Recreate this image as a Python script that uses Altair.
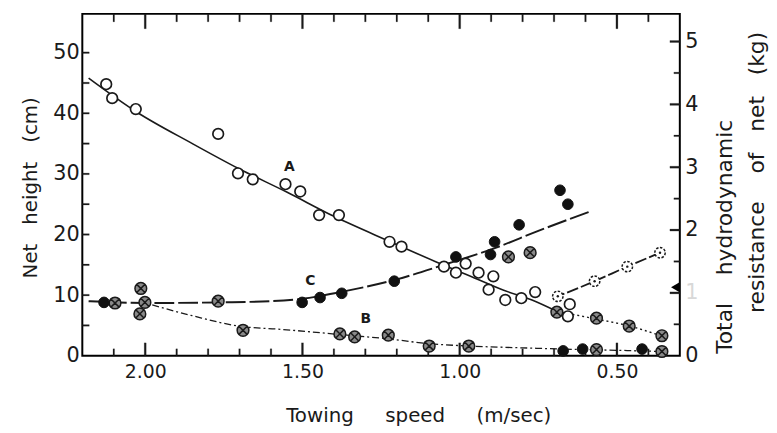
import altair as alt
import pandas as pd

# ---------------- data ----------------
# open circles (curve A, net height)
a_speed = [2.124, 2.105, 2.03, 1.768, 1.705, 1.658, 1.554, 1.507, 1.447, 1.384, 1.223, 1.185,
           1.05, 1.012, 0.981, 0.94, 0.893, 0.908, 0.855, 0.804, 0.76, 0.65, 0.656]
a_height = [44.8, 42.5, 40.7, 36.6, 30.1, 29.1, 28.3, 27.1, 23.2, 23.2, 18.8, 18.0,
            14.7, 13.7, 15.2, 13.7, 13.1, 10.9, 9.2, 9.5, 10.5, 8.5, 6.5]
# hatched circles
b_speed = [2.096, 2.014, 2.001, 2.017, 1.768, 1.689, 1.381, 1.334, 1.227, 1.097, 0.971,
           0.845, 0.776, 0.691, 0.565, 0.461, 0.357, 0.565, 0.357]
b_height = [8.7, 11.1, 8.8, 6.9, 9.0, 4.2, 3.6, 3.1, 3.4, 1.6, 1.6,
            16.3, 17.0, 7.2, 6.2, 4.9, 3.3, 1.0, 0.7]
# filled circles
c_speed = [2.131, 1.501, 1.444, 1.375, 1.208, 1.012, 0.902, 0.889, 0.811, 0.681, 0.656,
           0.671, 0.609, 0.42]
c_height = [8.8, 8.8, 9.6, 10.3, 12.3, 16.3, 16.7, 18.8, 21.6, 27.3, 25.0,
            0.8, 1.1, 1.1]
# dotted circles
d_speed = [0.688, 0.571, 0.467, 0.363]
d_height = [9.8, 12.3, 14.7, 17.0]
# marker on the right (resistance) axis, in kg
tri_speed = [0.315]
tri_resist = [1.09]

# drawn curves
curve_a_speed = [2.18, 2.03, 1.85, 1.70, 1.55, 1.40, 1.22, 1.08, 0.96, 0.86, 0.77, 0.69]
curve_a_height = [45.8, 40.3, 35.0, 30.8, 27.0, 23.0, 18.8, 15.6, 13.0, 10.8, 9.2, 7.3]
curve_a2_speed = [0.69, 0.57, 0.46, 0.36]
curve_a2_height = [7.3, 6.1, 4.9, 3.3]
curve_b_speed = [2.0, 1.85, 1.69, 1.58, 1.38, 1.23, 1.10, 0.97, 0.80, 0.67, 0.50, 0.36]
curve_b_height = [8.7, 6.6, 4.8, 4.4, 3.5, 2.8, 2.0, 1.6, 1.3, 1.1, 0.9, 0.7]
curve_c_speed = [2.18, 2.0, 1.77, 1.6, 1.5, 1.38, 1.2, 1.05, 0.886, 0.75, 0.59]
curve_c_height = [9.0, 8.7, 8.8, 9.0, 9.4, 10.5, 12.6, 15.0, 17.8, 20.6, 23.7]
curve_d_speed = [0.688, 0.571, 0.467, 0.363]
curve_d_height = [9.8, 12.3, 14.7, 17.0]

# curve labels
lab_text = ["A", "C", "B"]
lab_speed = [1.542, 1.475, 1.299]
lab_height = [31.2, 12.4, 6.0]

# ticks and tick labels
x_labels = [2.0, 1.5, 1.0, 0.5]
x_major = [2.0, 1.5, 1.0, 0.5]
x_minor = [2.1, 1.9, 1.8, 1.7, 1.6, 1.4, 1.3, 1.2, 1.1, 0.9, 0.8, 0.7, 0.6, 0.4]
y_labels = [0, 10, 20, 30, 40, 50]
y_ticks = [5, 10, 15, 20, 25, 30, 35, 40, 45, 50]
r_labels = [0, 1, 2, 3, 4, 5]
r_major = [1, 2, 3, 4, 5]
r_minor = [0.5, 1.5, 2.5, 3.5, 4.5]

W, H = 603, 345
FONT = "DejaVu Sans"
INK = "#1a1a1a"
SP = "\u00a0"
X_DOM = [0.3, 2.2]
Y_DOM = [0, 56.4]
R_DOM = [0, 5.44]
PX_X = (X_DOM[1] - X_DOM[0]) / W   # speed units per pixel
PX_Y = (Y_DOM[1] - Y_DOM[0]) / H   # cm per pixel
PX_R = (R_DOM[1] - R_DOM[0]) / H   # kg per pixel


def df(xs, ys):
    return pd.DataFrame({"speed": xs, "height": ys})


X = alt.X("speed:Q",
          scale=alt.Scale(domain=X_DOM, reverse=True, nice=False, zero=False),
          axis=alt.Axis(values=x_labels, format=".2f", ticks=False, domain=False, grid=False,
                        labelFontSize=19, labelPadding=7, labelColor=INK, labelFont=FONT,
                        title=f"Towing{SP*5}speed{SP*5}(m/sec)", titleFontSize=20,
                        titleFontWeight="normal", titleColor=INK, titleFont=FONT,
                        titlePadding=24, titleX=339))
Y = alt.Y("height:Q",
          scale=alt.Scale(domain=Y_DOM, nice=False, zero=False),
          axis=alt.Axis(values=y_labels, ticks=False, domain=False, grid=False,
                        labelFontSize=21, labelPadding=3, labelColor=INK, labelFont=FONT,
                        title=f"Net{SP*3}height{SP*3}(cm)", titleFontSize=20,
                        titleFontWeight="normal", titleColor=INK, titleFont=FONT,
                        titlePadding=13, titleY=175))
R = alt.Y("r:Q", scale=alt.Scale(domain=R_DOM, nice=False, zero=False),
          axis=alt.Axis(orient="right", values=r_labels, ticks=False, domain=False, grid=False,
                        labelFontSize=21, labelPadding=5, labelFont=FONT,
                        labelColor={"condition": {"test": "datum.value == 1", "value": "#d8d8d8"},
                                    "value": INK},
                        title=None))

CIRCLE_X = "M-1,0A1,1,0,1,1,1,0A1,1,0,1,1,-1,0ZM-0.7,-0.7L0.7,0.7M-0.7,0.7L0.7,-0.7"


def bar_path(half_w, vertical=True):
    # centred filled slim rectangle symbol spanning -1..1 along its length
    if vertical:
        return f"M{-half_w},-1L{half_w},-1L{half_w},1L{-half_w},1Z"
    return f"M-1,{-half_w}L1,{-half_w}L1,{half_w}L-1,{half_w}Z"


def line(xs, ys, **kw):
    return alt.Chart(df(xs, ys)).mark_line(interpolate="monotone", color=INK, **kw).encode(
        x=X, y=Y, order="speed:Q")


lines = [
    line(curve_a_speed, curve_a_height, strokeWidth=1.6),
    line(curve_a2_speed, curve_a2_height, strokeWidth=1.4, strokeDash=[2, 3]),
    line(curve_b_speed, curve_b_height, strokeWidth=1.3, strokeDash=[7, 3, 2, 3]),
    line(curve_c_speed, curve_c_height, strokeWidth=2.0, strokeDash=[20, 4]),
    line(curve_d_speed, curve_d_height, strokeWidth=1.8, strokeDash=[12, 3]),
]


# inward frame ticks: slim filled bar symbols centred half a tick length inside the frame
def tick_bars(data, yenc, length, width, vertical):
    half = length / 2.0
    return alt.Chart(data).mark_point(
        shape=bar_path(width / length, vertical), filled=True, fill=INK, stroke=INK,
        strokeWidth=0.2, size=4 * half * half, opacity=1, fillOpacity=1).encode(x=X, y=yenc)


bot_minor = tick_bars(df(x_minor, [Y_DOM[0] + 3.5 * PX_Y] * len(x_minor)), Y, 7, 1.6, True)
bot_major = tick_bars(df(x_major, [Y_DOM[0] + 6.5 * PX_Y] * len(x_major)), Y, 13, 2.0, True)
top_minor = tick_bars(df(x_minor, [Y_DOM[1] - 4.0 * PX_Y] * len(x_minor)), Y, 8, 1.6, True)
top_major = tick_bars(df(x_major, [Y_DOM[1] - 7.5 * PX_Y] * len(x_major)), Y, 15, 2.0, True)
left_ticks = tick_bars(df([X_DOM[1] - 3.5 * PX_X] * len(y_ticks), y_ticks), Y, 7, 1.6, False)

open_pts = alt.Chart(df(a_speed, a_height)).mark_point(
    shape="circle", filled=True, fill="white", stroke=INK, strokeWidth=1.7, size=115,
    opacity=1, fillOpacity=1).encode(x=X, y=Y)
hatch_pts = alt.Chart(df(b_speed, b_height)).mark_point(
    shape=CIRCLE_X, filled=True, fill="#8a8a8a", stroke=INK, strokeWidth=1.5, size=140,
    opacity=1, fillOpacity=1).encode(x=X, y=Y)
filled_pts = alt.Chart(df(c_speed, c_height)).mark_point(
    shape="circle", filled=True, fill="#111", stroke="#111", strokeWidth=1, size=115,
    opacity=1).encode(x=X, y=Y)
dot_pts = alt.Chart(df(d_speed, d_height)).mark_point(
    shape="circle", filled=True, fill="white", stroke=INK, strokeWidth=1.5, size=110,
    strokeDash=[2.5, 1.5], opacity=1, fillOpacity=1).encode(x=X, y=Y)
dot_centres = alt.Chart(df(d_speed, d_height)).mark_point(
    shape="circle", filled=True, color=INK, size=6, opacity=1).encode(x=X, y=Y)

labels = alt.Chart(pd.DataFrame({"speed": lab_speed, "height": lab_height, "t": lab_text})).mark_text(
    font=FONT, fontSize=14, fontWeight="bold", color=INK).encode(x=X, y=Y, text="t:N")

inner = alt.layer(*lines, bot_minor, bot_major, top_minor, top_major, left_ticks,
                  open_pts, hatch_pts, filled_pts, dot_pts, dot_centres, labels)

right_major = tick_bars(pd.DataFrame({"speed": [X_DOM[0] + 5 * PX_X] * len(r_major), "r": r_major}),
                        R, 10, 2.0, False)
right_minor = tick_bars(pd.DataFrame({"speed": [X_DOM[0] + 3 * PX_X] * len(r_minor), "r": r_minor}),
                        R, 6, 1.6, False)
tri_pt = alt.Chart(pd.DataFrame({"speed": tri_speed, "r": tri_resist})).mark_point(
    shape="triangle-left", filled=True, color="#000", size=90, opacity=1).encode(x=X, y=R)
right = alt.layer(right_major, right_minor, tri_pt)

rt1 = alt.Chart(pd.DataFrame({"t": [f"Total{SP*4}hydrodynamic"]})).mark_text(
    font=FONT, fontSize=22, angle=270, color=INK, align="center", baseline="middle").encode(
    text="t:N", x=alt.value(649), y=alt.value(225))
rt2 = alt.Chart(pd.DataFrame({"t": [f"resistance{SP*4}of{SP*3}net{SP*3}(kg)"]})).mark_text(
    font=FONT, fontSize=22, angle=270, color=INK, align="center", baseline="middle").encode(
    text="t:N", x=alt.value(681), y=alt.value(160))

chart = alt.layer(inner, right, rt1, rt2).resolve_scale(y="independent").properties(
    width=W, height=H,
    autosize=alt.AutoSizeParams(type="none"),
    padding={"left": 75, "top": 4, "right": 90, "bottom": 72},
).configure_view(stroke="black", strokeWidth=2)

chart.save("out.html", embed_options={"renderer": "svg", "actions": False})
